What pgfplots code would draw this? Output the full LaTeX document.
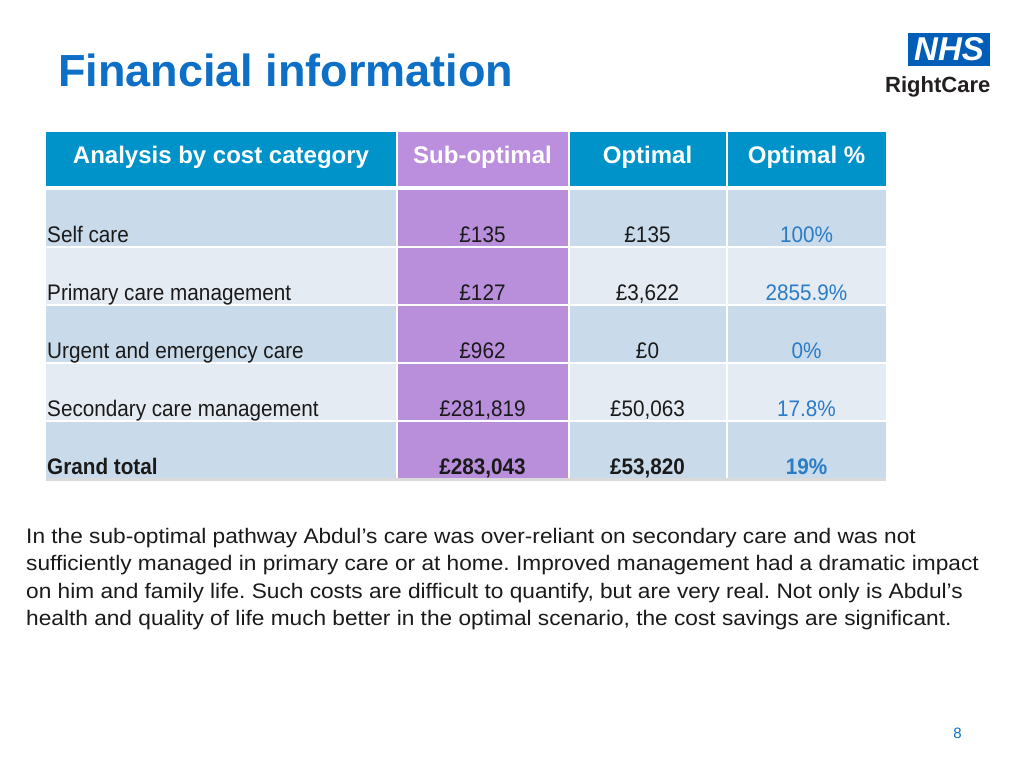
\documentclass[border=0pt]{standalone}
\usepackage{pgfplots}
\pgfplotsset{compat=1.18}
\usepackage{fontspec}
\setmainfont{Liberation Sans}
\newfontfamily\narrow[FakeStretch=0.92]{Liberation Sans}
\newfontfamily\wide[FakeStretch=1.08]{Liberation Sans}
\definecolor{hblue}{HTML}{0093CA}
\definecolor{hpurple}{HTML}{BC8EDE}
\definecolor{bpurple}{HTML}{B98FDC}
\definecolor{rowa}{HTML}{C9DAEA}
\definecolor{rowb}{HTML}{E5EBF3}
\definecolor{pctblue}{HTML}{2A7CC6}
\definecolor{titleblue}{HTML}{0E6FC6}
\definecolor{nhsblue}{HTML}{005EB8}
\definecolor{txt}{HTML}{1A1A1A}
\definecolor{logotxt}{HTML}{231F20}
\definecolor{greyline}{HTML}{DADADA}
\frenchspacing
\begin{document}
\begin{tikzpicture}
\begin{axis}[scale only axis, width=1024pt, height=768pt,
  xmin=0, xmax=1024, ymin=0, ymax=768, y dir=reverse,
  hide axis, clip=false]
\fill[white] (axis cs:0,0) rectangle (axis cs:1024,768);
% title
\node[anchor=base west, inner sep=0pt, text=titleblue, font=\bfseries\fontsize{45}{50}\selectfont] at (axis cs:58,86) {Financial information};
% logo
\fill[nhsblue] (axis cs:908,33) rectangle (axis cs:990,66);
\node[anchor=center, inner sep=0pt, text=white, font=\bfseries\itshape\fontsize{33}{35}\selectfont] at (axis cs:949,49.5) {NHS};
\node[anchor=base west, inner sep=0pt, text=logotxt, font=\bfseries\fontsize{22}{24}\selectfont] at (axis cs:885,92) {RightCare};
% header row
\fill[hblue] (axis cs:46,132) rectangle (axis cs:395.5,186);
\fill[hpurple] (axis cs:397.5,132) rectangle (axis cs:567.5,186);
\fill[hblue] (axis cs:569.5,132) rectangle (axis cs:725.5,186);
\fill[hblue] (axis cs:727.5,132) rectangle (axis cs:885.5,186);
% body rows
\fill[rowa] (axis cs:46,190) rectangle (axis cs:395.5,245.5);
\fill[rowa] (axis cs:569.5,190) rectangle (axis cs:725.5,245.5);
\fill[rowa] (axis cs:727.5,190) rectangle (axis cs:885.5,245.5);
\fill[rowb] (axis cs:46,247.5) rectangle (axis cs:395.5,303.5);
\fill[rowb] (axis cs:569.5,247.5) rectangle (axis cs:725.5,303.5);
\fill[rowb] (axis cs:727.5,247.5) rectangle (axis cs:885.5,303.5);
\fill[rowa] (axis cs:46,305.5) rectangle (axis cs:395.5,361.5);
\fill[rowa] (axis cs:569.5,305.5) rectangle (axis cs:725.5,361.5);
\fill[rowa] (axis cs:727.5,305.5) rectangle (axis cs:885.5,361.5);
\fill[rowb] (axis cs:46,363.5) rectangle (axis cs:395.5,419.5);
\fill[rowb] (axis cs:569.5,363.5) rectangle (axis cs:725.5,419.5);
\fill[rowb] (axis cs:727.5,363.5) rectangle (axis cs:885.5,419.5);
\fill[rowa] (axis cs:46,421.5) rectangle (axis cs:395.5,477.5);
\fill[rowa] (axis cs:569.5,421.5) rectangle (axis cs:725.5,477.5);
\fill[rowa] (axis cs:727.5,421.5) rectangle (axis cs:885.5,477.5);
\fill[bpurple] (axis cs:397.5,190) rectangle (axis cs:567.5,245.5);
\fill[bpurple] (axis cs:397.5,247.5) rectangle (axis cs:567.5,303.5);
\fill[bpurple] (axis cs:397.5,305.5) rectangle (axis cs:567.5,361.5);
\fill[bpurple] (axis cs:397.5,363.5) rectangle (axis cs:567.5,419.5);
\fill[bpurple] (axis cs:397.5,421.5) rectangle (axis cs:567.5,477.5);
\fill[greyline] (axis cs:46,478) rectangle (axis cs:886,480.5);
% header text
\tikzset{hdr/.style={anchor=base, inner sep=0pt, text=white, font=\bfseries\fontsize{24}{28}\selectfont},
  lab/.style={anchor=base west, inner sep=0pt, text=txt, font=\narrow\fontsize{22.5}{27}\selectfont},
  val/.style={anchor=base, inner sep=0pt, text=txt, font=\narrow\fontsize{22.5}{27}\selectfont},
  pct/.style={anchor=base, inner sep=0pt, text=pctblue, font=\narrow\fontsize{22.5}{27}\selectfont},
  par/.style={anchor=base west, inner sep=0pt, text=txt, font=\wide\fontsize{21}{27}\selectfont}}
\node[hdr] at (axis cs:221,163) {Analysis by cost category};
\node[hdr] at (axis cs:482.5,163) {Sub-optimal};
\node[hdr] at (axis cs:647.5,163) {Optimal};
\node[hdr] at (axis cs:806.5,163) {Optimal \%};
% rows
\node[lab] at (axis cs:47,242) {Self care};
\node[val] at (axis cs:482.5,242) {£135};
\node[val] at (axis cs:647.5,242) {£135};
\node[pct] at (axis cs:806.5,242) {100\%};
\node[lab] at (axis cs:47,300) {Primary care management};
\node[val] at (axis cs:482.5,300) {£127};
\node[val] at (axis cs:647.5,300) {£3,622};
\node[pct] at (axis cs:806.5,300) {2855.9\%};
\node[lab] at (axis cs:47,358) {Urgent and emergency care};
\node[val] at (axis cs:482.5,358) {£962};
\node[val] at (axis cs:647.5,358) {£0};
\node[pct] at (axis cs:806.5,358) {0\%};
\node[lab] at (axis cs:47,416) {Secondary care management};
\node[val] at (axis cs:482.5,416) {£281,819};
\node[val] at (axis cs:647.5,416) {£50,063};
\node[pct] at (axis cs:806.5,416) {17.8\%};
\node[lab, font=\narrow\bfseries\fontsize{22.5}{27}\selectfont] at (axis cs:47,474) {Grand total};
\node[val, font=\narrow\bfseries\fontsize{22.5}{27}\selectfont] at (axis cs:482.5,474) {£283,043};
\node[val, font=\narrow\bfseries\fontsize{22.5}{27}\selectfont] at (axis cs:647.5,474) {£53,820};
\node[pct, font=\narrow\bfseries\fontsize{22.5}{27}\selectfont] at (axis cs:806.5,474) {19\%};
% paragraph
\node[par] at (axis cs:26,543) {In the sub-optimal pathway Abdul’s care was over-reliant on secondary care and was not};
\node[par] at (axis cs:26,570.5) {sufficiently managed in primary care or at home. Improved management had a dramatic impact};
\node[par] at (axis cs:26,598) {on him and family life. Such costs are difficult to quantify, but are very real. Not only is Abdul’s};
\node[par] at (axis cs:26,625.5) {health and quality of life much better in the optimal scenario, the cost savings are significant.};
% page number
\node[anchor=base, inner sep=0pt, text=titleblue, font=\fontsize{15}{17}\selectfont] at (axis cs:957.5,738) {8};
\end{axis}
\end{tikzpicture}
\end{document}
